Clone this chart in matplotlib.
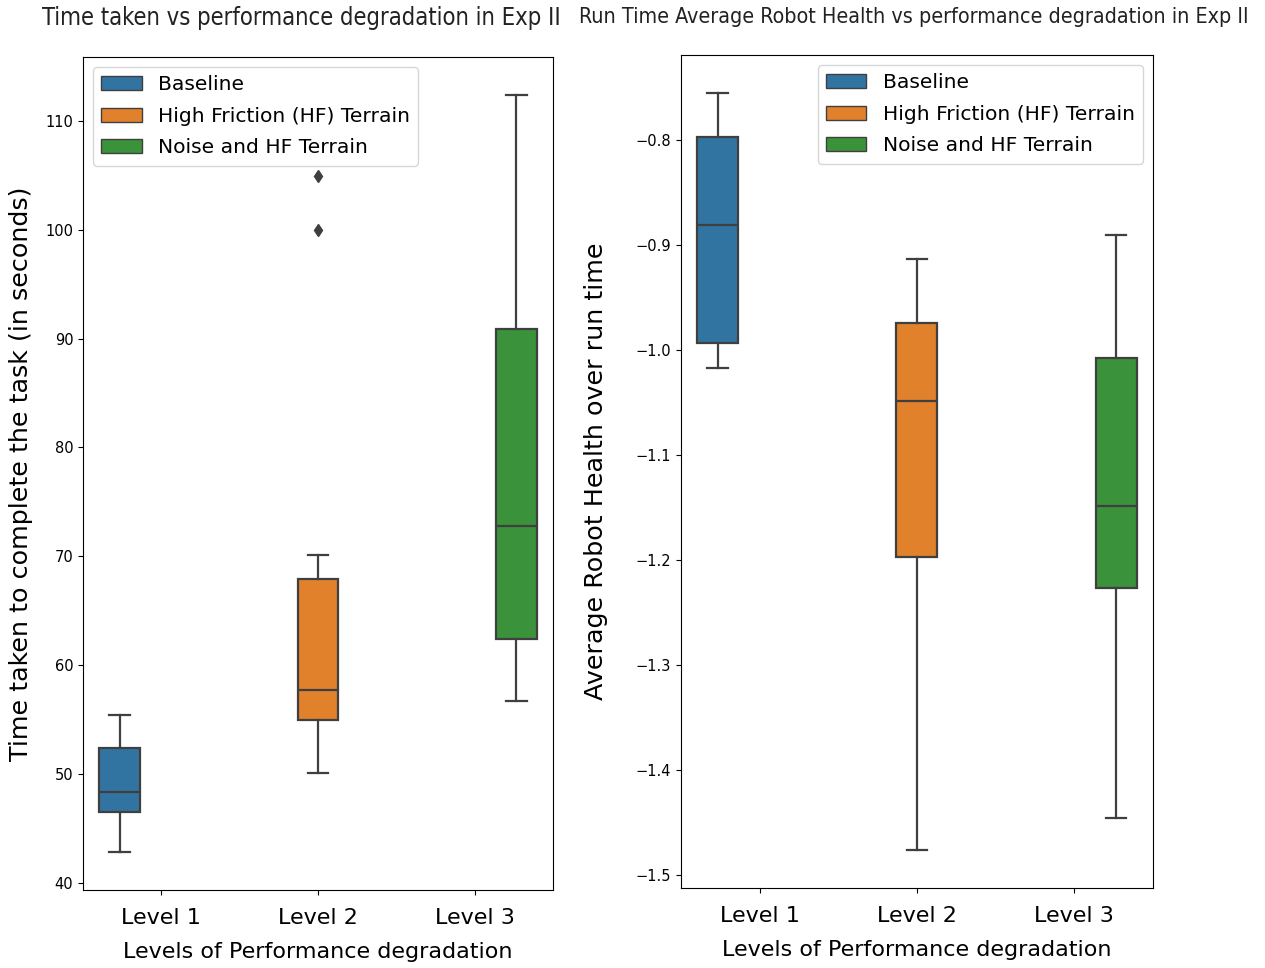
import matplotlib
matplotlib.use("Agg")
import matplotlib.pyplot as plt
from matplotlib.patches import Patch
from matplotlib import font_manager

# data (box stats per level)
levels = ["Level 1", "Level 2", "Level 3"]
groups = ["Baseline", "High Friction (HF) Terrain", "Noise and HF Terrain"]

# time taken (seconds)
time_whislo = [42.8, 50.1, 56.7]
time_q1 = [46.5, 54.9, 62.4]
time_med = [48.3, 57.7, 72.8]
time_q3 = [52.4, 67.9, 90.9]
time_whishi = [55.4, 70.1, 112.4]
time_fliers = [[], [100.0, 104.9], []]

# average robot health over run time
health_whislo = [-1.017, -1.476, -1.445]
health_q1 = [-0.993, -1.197, -1.226]
health_med = [-0.881, -1.048, -1.148]
health_q3 = [-0.797, -0.974, -1.007]
health_whishi = [-0.755, -0.913, -0.890]
health_fliers = [[], [], []]

colors = ["#3274a1", "#e1812c", "#3a923a"]
line_col = "#3f3f3f"

# titles in the reference use a condensed face, look for one
cond = [f.fname for f in font_manager.fontManager.ttflist
        if ("Condensed" in f.fname or "Narrow" in f.fname)
        and "Bold" not in f.fname and "Oblique" not in f.fname and "Italic" not in f.fname]
cond.sort(key=lambda p: (0 if "DejaVuSansCondensed" in p else 1, p))
if cond:
    title_fp1 = font_manager.FontProperties(fname=cond[0], size=17.1)
    title_fp2 = font_manager.FontProperties(fname=cond[0], size=15.4)
else:
    title_fp1 = font_manager.FontProperties(family="DejaVu Sans", size=15.3)
    title_fp2 = font_manager.FontProperties(family="DejaVu Sans", size=13.8)


def make_stats(lo, q1, med, q3, hi, fl):
    stats = []
    for i in range(len(lo)):
        stats.append({"whislo": lo[i], "q1": q1[i], "med": med[i],
                      "q3": q3[i], "whishi": hi[i], "fliers": fl[i]})
    return stats


def draw_box(ax, stats):
    w = 0.8 / 3
    offsets = [-w, 0, w]
    pos = [i + offsets[i] for i in range(len(stats))]
    bp = ax.bxp(stats, positions=pos, widths=w * 0.98, patch_artist=True,
                manage_ticks=False,
                boxprops=dict(edgecolor=line_col, linewidth=1.6),
                medianprops=dict(color=line_col, linewidth=1.6),
                whiskerprops=dict(color=line_col, linewidth=1.6),
                capprops=dict(color=line_col, linewidth=1.6),
                flierprops=dict(marker="d", markerfacecolor=line_col,
                                markeredgecolor=line_col, markersize=6))
    for patch, c in zip(bp["boxes"], colors):
        patch.set_facecolor(c)
    ax.set_xlim(-0.5, 2.5)
    ax.set_xticks(range(3))
    ax.set_xticklabels(levels, fontsize=16)
    ax.tick_params(axis="x", pad=9.5)
    ax.tick_params(axis="y", labelsize=10.5)
    ax.set_xlabel("Levels of Performance degradation", fontsize=16, labelpad=10)


fig = plt.figure(figsize=(12.65, 9.68), dpi=100)
ax1 = fig.add_axes([0.0656, 0.0806, 0.3716, 0.8605])
ax2 = fig.add_axes([0.5383, 0.0826, 0.3731, 0.8605])

draw_box(ax1, make_stats(time_whislo, time_q1, time_med, time_q3, time_whishi, time_fliers))
draw_box(ax2, make_stats(health_whislo, health_q1, health_med, health_q3, health_whishi, health_fliers))

ax1.set_ylabel("Time taken to complete the task (in seconds)", fontsize=18.3, labelpad=9)
ax2.set_ylabel("Average Robot Health over run time", fontsize=18.3, labelpad=20)

handles = [Patch(facecolor=c, edgecolor=line_col, label=g) for c, g in zip(colors, groups)]
ax1.legend(handles=handles, loc="upper left", fontsize=14.6, labelspacing=0.62)
ax2.legend(handles=handles, loc="upper right", fontsize=14.6, labelspacing=0.62)

fig.text(0.238, 0.981, "Time taken vs performance degradation in Exp II",
         ha="center", va="center", fontproperties=title_fp1, color="#222222")
fig.text(0.7227, 0.982, "Run Time Average Robot Health vs performance degradation in Exp II",
         ha="center", va="center", fontproperties=title_fp2, color="#222222")

fig.savefig("out.png", dpi=100)
